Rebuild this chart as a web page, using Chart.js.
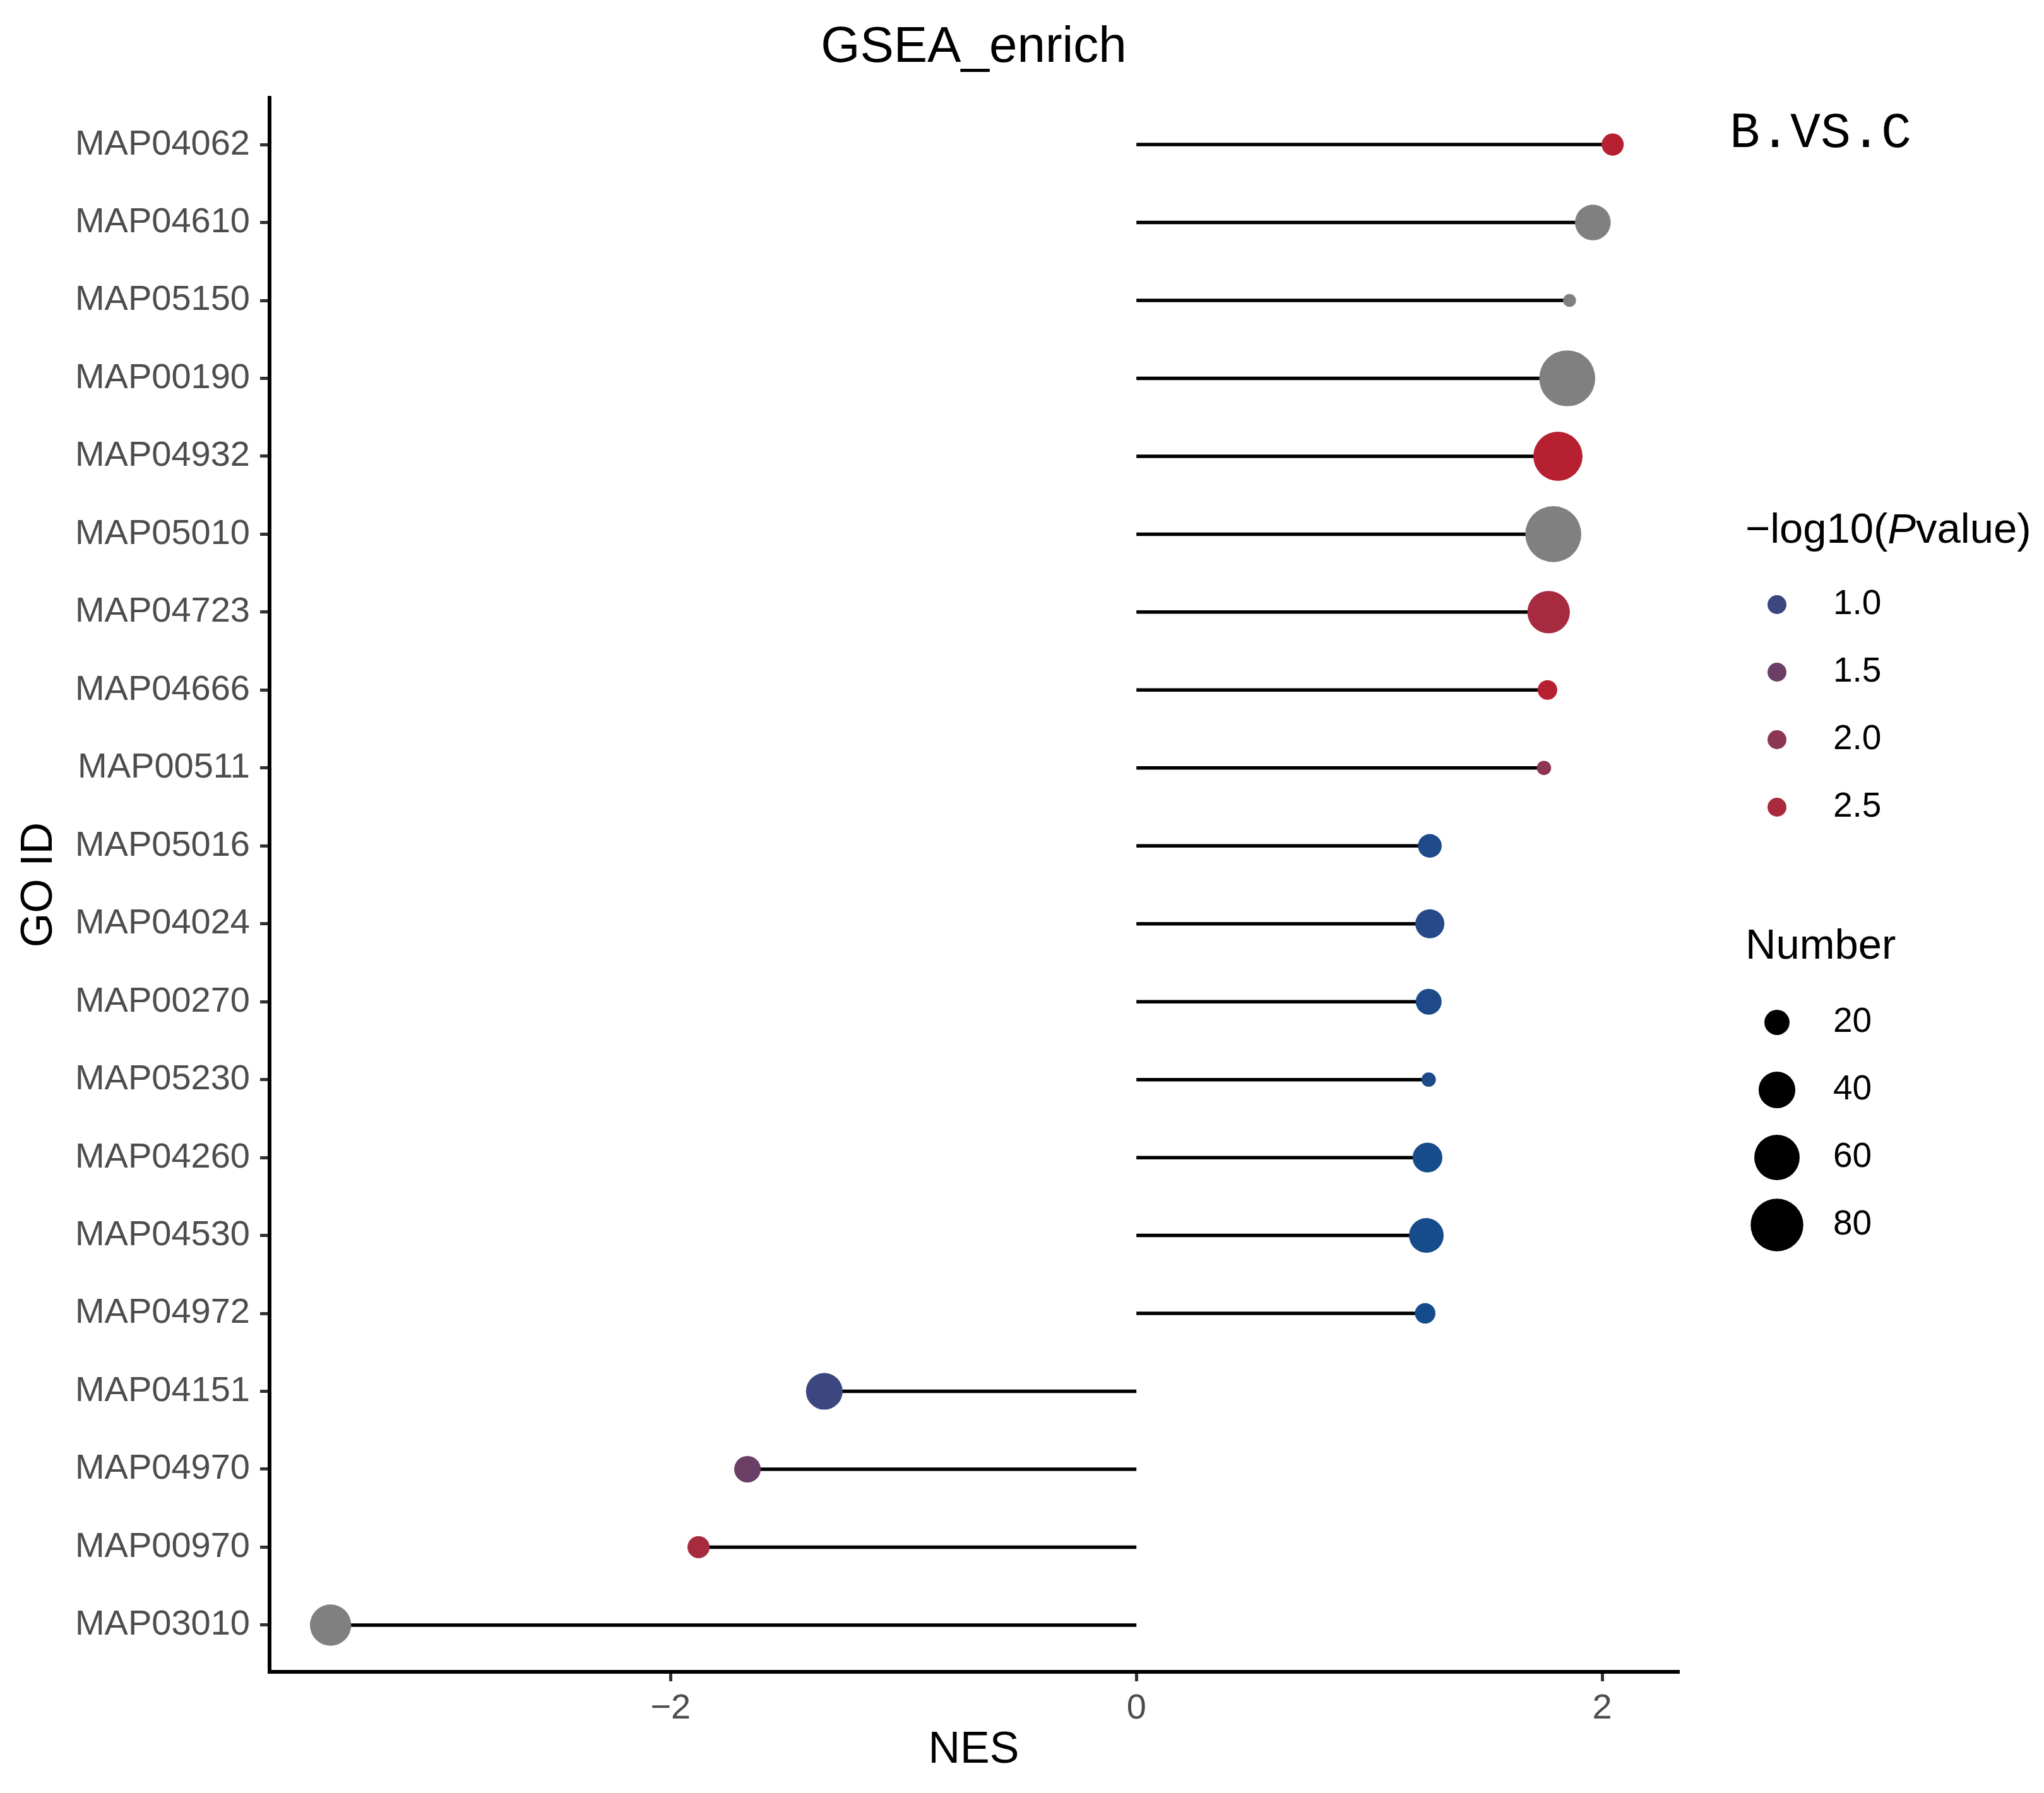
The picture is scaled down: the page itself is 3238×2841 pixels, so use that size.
<!DOCTYPE html>
<html>
<head>
<meta charset="utf-8">
<title>GSEA_enrich</title>
<script src="https://cdn.jsdelivr.net/npm/chart.js@4.4.1/dist/chart.umd.min.js"></script>
<style>
  html, body { margin: 0; padding: 0; background: #fff; }
  canvas { display: block; }
</style>
</head>
<body>
<canvas id="chart" width="3238" height="2841" style="width:3238px;height:2841px"></canvas>
<script>
// pathways, top to bottom
const pathways = ['MAP04062', 'MAP04610', 'MAP05150', 'MAP00190', 'MAP04932', 'MAP05010', 'MAP04723',
  'MAP04666', 'MAP00511', 'MAP05016', 'MAP04024', 'MAP00270', 'MAP05230', 'MAP04260', 'MAP04530',
  'MAP04972', 'MAP04151', 'MAP04970', 'MAP00970', 'MAP03010'];
const nes = [2.045, 1.96, 1.86, 1.85, 1.81, 1.79, 1.77, 1.765, 1.75, 1.26, 1.26, 1.255, 1.255, 1.25,
  1.245, 1.24, -1.34, -1.67, -1.88, -3.46];
// -log10(Pvalue), null where the value is missing (drawn grey)
const logP = [2.75, null, null, null, 2.75, null, 2.45, 2.75, 2.05, 0.78, 0.85, 0.78, 0.78, 0.72,
  0.72, 0.7, 1.0, 1.5, 2.45, null];
const counts = [16, 38, 7, 90, 70, 90, 53, 13, 8, 18, 26, 21, 8, 27, 36, 14, 40, 22, 16, 50];

const colorBreaks = [1.0, 1.5, 2.0, 2.5];
const sizeBreaks = [20, 40, 60, 80];
const xTicks = [-2, 0, 2];

const FONT = '"Liberation Sans", Arial, sans-serif';
const NA_COLOR = '#808080';
const gradStops = [[0.7, '#134B8D'], [1.0, '#3C4780'], [1.5, '#6A3F66'], [2.0, '#8B3653'],
  [2.5, '#A92A3D'], [2.8, '#B81E2D']];

function hexRgb(h) {
  return [1, 3, 5].map(i => parseInt(h.substr(i, 2), 16));
}
function colorFor(v) {
  if (v === null) return NA_COLOR;
  if (v <= gradStops[0][0]) return gradStops[0][1];
  for (let k = 1; k < gradStops.length; k++) {
    if (v <= gradStops[k][0]) {
      const [v0, c0] = gradStops[k - 1];
      const [v1, c1] = gradStops[k];
      const t = (v - v0) / (v1 - v0);
      const a = hexRgb(c0), b = hexRgb(c1);
      const c = a.map((x, j) => Math.round(x + (b[j] - x) * t));
      return `rgb(${c[0]},${c[1]},${c[2]})`;
    }
  }
  return gradStops[gradStops.length - 1][1];
}
// area grows linearly with the count
function radius(n) {
  return Math.sqrt(Math.max(-201 + 89.6 * n, 100)) / 2;
}

const stems = pathways.map((p, i) => ({
  type: 'line',
  data: [{ x: 0, y: i }, { x: nes[i], y: i }],
  borderColor: '#000',
  borderWidth: 5.5,
  pointRadius: 0,
  order: 2
}));

const dots = {
  type: 'bubble',
  data: pathways.map((p, i) => ({ x: nes[i], y: i, r: radius(counts[i]) })),
  backgroundColor: logP.map(colorFor),
  borderWidth: 0,
  hoverRadius: 0,
  order: 1
};

const extras = {
  id: 'extras',
  afterDraw(chart) {
    const ctx = chart.ctx;
    const area = chart.chartArea;
    ctx.save();
    ctx.textBaseline = 'middle';

    // title
    ctx.fillStyle = '#000';
    ctx.textAlign = 'center';
    ctx.font = '80px ' + FONT;
    ctx.fillText('GSEA_enrich', (area.left + area.right) / 2, 76);

    ctx.textAlign = 'left';
    ctx.font = '80px "Liberation Mono", monospace';
    ctx.fillText('B.VS.C', 2740, 212);

    // colour legend
    let x = 2765;
    const parts = [['−log10(', ''], ['P', 'italic '], ['value)', '']];
    parts.forEach(([txt, st]) => {
      ctx.font = st + '67px ' + FONT;
      ctx.fillText(txt, x, 842);
      x += ctx.measureText(txt).width;
    });
    ctx.font = '55px ' + FONT;
    colorBreaks.forEach((b, k) => {
      const y = 958 + k * 107;
      ctx.fillStyle = colorFor(b);
      ctx.beginPath();
      ctx.arc(2815, y, 15, 0, Math.PI * 2);
      ctx.fill();
      ctx.fillStyle = '#000';
      ctx.fillText(b.toFixed(1), 2904, y);
    });

    // size legend
    ctx.font = '67px ' + FONT;
    ctx.fillText('Number', 2765, 1501);
    ctx.font = '55px ' + FONT;
    sizeBreaks.forEach((n, k) => {
      const y = 1620 + k * 107;
      ctx.beginPath();
      ctx.arc(2815, y, radius(n), 0, Math.PI * 2);
      ctx.fill();
      ctx.fillText(String(n), 2904, y);
    });
    ctx.restore();
  }
};

Chart.defaults.font.family = FONT;

new Chart(document.getElementById('chart').getContext('2d'), {
  type: 'bubble',
  data: { datasets: [dots, ...stems] },
  options: {
    responsive: false,
    devicePixelRatio: 1,
    animation: false,
    events: [],
    layout: { padding: { top: 155, right: 580, bottom: 0, left: 0 } },
    plugins: {
      legend: { display: false },
      tooltip: { enabled: false },
      title: { display: false }
    },
    scales: {
      x: {
        type: 'linear',
        min: -3.722,
        max: 2.325,
        afterBuildTicks: a => { a.ticks = xTicks.map(v => ({ value: v })); },
        afterFit: s => { s.height = 192; },
        ticks: {
          callback: v => (v < 0 ? '\u2212' + Math.abs(v) : String(v)),
          color: '#4D4D4D',
          font: { size: 56 },
          padding: 10,
          maxRotation: 0,
          autoSkip: false
        },
        grid: { drawOnChartArea: false, tickLength: 15, lineWidth: 5, tickWidth: 5, tickColor: '#333' },
        border: { display: true, color: '#000', width: 6 },
        title: { display: true, text: 'NES', color: '#000', font: { size: 70 }, padding: { top: 0, bottom: 25 } }
      },
      y: {
        type: 'linear',
        reverse: true,
        min: -0.6,
        max: 19.6,
        afterBuildTicks: a => { a.ticks = pathways.map((p, i) => ({ value: i })); },
        afterFit: s => { s.width = 427; },
        ticks: {
          callback: v => pathways[v],
          color: '#4D4D4D',
          font: { size: 56 },
          padding: 16,
          autoSkip: false
        },
        grid: { drawOnChartArea: false, tickLength: 15, lineWidth: 5, tickWidth: 5, tickColor: '#333' },
        border: { display: true, color: '#000', width: 6 },
        title: { display: true, text: 'GO ID', color: '#000', font: { size: 70 }, padding: { top: 21, bottom: 0 } }
      }
    }
  },
  plugins: [extras]
});
</script>
</body>
</html>
